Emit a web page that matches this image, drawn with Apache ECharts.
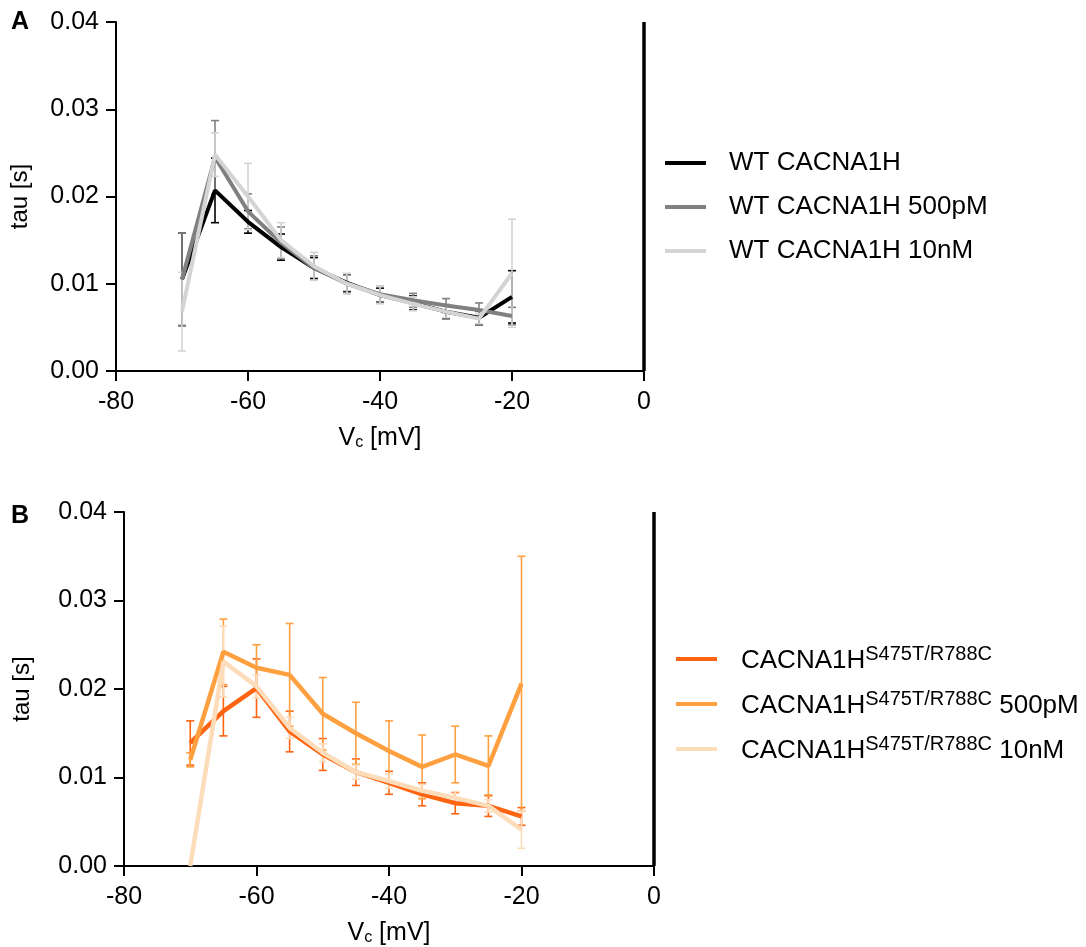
<!DOCTYPE html>
<html><head><meta charset="utf-8">
<script src="https://cdn.jsdelivr.net/npm/echarts@6/dist/echarts.min.js"></script>
<style>html,body{margin:0;padding:0;background:#fff}#c{width:1086px;height:947px}</style>
</head><body><div id="c"></div>
<script>
const voltages = [-70,-65,-60,-55,-50,-45,-40,-35,-30,-25,-20];
const xTicks = [-80,-60,-40,-20,0];
const yTicks = [0,0.01,0.02,0.03,0.04];

const wtNames = ['WT CACNA1H','WT CACNA1H 500pM','WT CACNA1H 10nM'];
const wtMean = [0.0105,0.0207,0.0171,0.0142,0.0118,0.0101,0.0087,0.0078,0.0068,0.0061,0.0085];
const wtErr  = [0.0053,0.0037,0.0013,0.0015,0.0012,0.0010,0.0008,0.0008,0.0008,0.0008,0.0030];
const wt500Mean = [0.0105,0.0245,0.0183,0.0147,0.0118,0.0100,0.0088,0.0081,0.0075,0.0070,0.0063];
const wt500Err  = [0.0053,0.0042,0.0020,0.0018,0.0014,0.0010,0.0009,0.0008,0.0008,0.0008,0.0010];
const wt10Mean = [0.0068,0.0248,0.0200,0.0150,0.0120,0.0100,0.0087,0.0077,0.0068,0.0060,0.0112];
const wt10Err  = [0.0045,0.0025,0.0038,0.0020,0.0016,0.0012,0.0010,0.0008,0.0007,0.0006,0.0062];

const mutNames = ['CACNA1H','CACNA1H 500pM','CACNA1H 10nM'];
const mutSup = 'S475T/R788C';
const mutMean = [0.0139,0.0175,0.0201,0.0152,0.0126,0.0106,0.0094,0.0081,0.0071,0.0068,0.0056];
const mutErr  = [0.0025,0.0028,0.0033,0.0023,0.0018,0.0015,0.0013,0.0013,0.0012,0.0012,0.0010];
const mut500Mean = [0.0120,0.0242,0.0224,0.0216,0.0172,0.0150,0.0130,0.0112,0.0126,0.0113,0.0206];
const mut500Err  = [0.0008,0.0037,0.0026,0.0058,0.0041,0.0035,0.0034,0.0036,0.0032,0.0034,0.0144];
const mut10Mean = [0.0000,0.0231,0.0203,0.0156,0.0128,0.0106,0.0096,0.0085,0.0077,0.0068,0.0041];
const mut10Err  = [0,0.0040,0.0013,0.0012,0.0010,0.0008,0.0008,0.0007,0.0007,0.0007,0.0021];

const wtColors = ['#000000','#808080','#d4d4d4'];
const mutColors = ['#ff6412','#ffa040','#fddcb9'];

const FONT = 'Liberation Sans, Arial, sans-serif';
const chart = echarts.init(document.getElementById('c'));

function errRender(params, api){
  const x = api.value(0), m = api.value(1), e = api.value(2);
  if (!e) return null;
  const hi = api.coord([x, m+e]), lo = api.coord([x, m-e]);
  const w = 4;
  const style = {stroke: api.visual('color'), lineWidth: 1.6};
  return {type:'group', children:[
    {type:'line', shape:{x1:hi[0],y1:hi[1],x2:lo[0],y2:lo[1]}, style},
    {type:'line', shape:{x1:hi[0]-w,y1:hi[1],x2:hi[0]+w,y2:hi[1]}, style},
    {type:'line', shape:{x1:lo[0]-w,y1:lo[1],x2:lo[0]+w,y2:lo[1]}, style}
  ]};
}

function xAxis(gi){
  return {type:'value', gridIndex:gi, min:-80, max:0, interval:20,
    axisLine:{show:true, onZero:false, lineStyle:{color:'#000', width:2}},
    axisTick:{show:true, length:10, lineStyle:{color:'#000', width:2}},
    axisLabel:{color:'#000', fontSize:25, fontFamily:FONT, margin:19},
    splitLine:{show:false},
    name:'V{s|c} [mV]', nameLocation:'middle', nameGap:54,
    nameTextStyle:{color:'#000', fontSize:25, fontFamily:FONT, rich:{s:{fontSize:16, fontFamily:FONT, color:'#000', verticalAlign:'bottom', padding:[10,0,0,0]}}}
  };
}
function yAxis(gi, gap){
  return {type:'value', gridIndex:gi, min:0, max:0.04, interval:0.01,
    axisLine:{show:true, onZero:false, lineStyle:{color:'#000', width:2}},
    axisTick:{show:true, length:10, lineStyle:{color:'#000', width:2}},
    axisLabel:{color:'#000', fontSize:25, fontFamily:FONT, margin:17, formatter:v=>v.toFixed(2)},
    splitLine:{show:false},
    name:'tau [s]', nameLocation:'middle', nameGap:gap, nameRotate:90,
    nameTextStyle:{color:'#000', fontSize:24, fontFamily:FONT}
  };
}

const groups = [
  {names: wtNames, means:[wtMean,wt500Mean,wt10Mean], errs:[wtErr,wt500Err,wt10Err], colors: wtColors, lw:4},
  {names: mutNames, means:[mutMean,mut500Mean,mut10Mean], errs:[mutErr,mut500Err,mut10Err], colors: mutColors, lw:4.5}
];
const series = [];
groups.forEach((g, gi) => {
  g.names.forEach((nm, k) => {
    series.push({type:'custom', name: nm+'_err', xAxisIndex:gi, yAxisIndex:gi,
      renderItem: errRender, itemStyle:{color:g.colors[k]}, z:2,
      data: voltages.map((v,i)=>[v, g.means[k][i], g.errs[k][i]])});
  });
  g.names.forEach((nm, k) => {
    const s = {type:'line', name: nm, xAxisIndex:gi, yAxisIndex:gi,
      showSymbol:false, symbol:'none', z:3,
      lineStyle:{color:g.colors[k], width:g.lw}, itemStyle:{color:g.colors[k]},
      data: voltages.map((v,i)=>[v, g.means[k][i]])};
    if (k === 0) {
      s.markLine = {silent:true, symbol:'none', label:{show:false}, animation:false,
        lineStyle:{color:'#000', width:3.5, type:'solid'}, data:[{xAxis:0}]};
    }
    series.push(s);
  });
});

chart.setOption({
  animation:false,
  backgroundColor:'#fff',
  title:[
    {text:'A', left:6, top:5, textStyle:{fontSize:25, fontWeight:'bold', fontFamily:FONT, color:'#000'}},
    {text:'B', left:6, top:499, textStyle:{fontSize:25, fontWeight:'bold', fontFamily:FONT, color:'#000'}}
  ],
  grid:[
    {left:116, top:22, width:528, height:349},
    {left:124, top:512, width:530, height:355}
  ],
  xAxis:[xAxis(0), xAxis(1)],
  yAxis:[yAxis(0, 84), yAxis(1, 90)],
  legend:[
    {data: wtNames, orient:'vertical', left:660, top:144, icon:'rect', itemWidth:41, itemHeight:4, itemGap:16,
      textStyle:{fontSize:26, fontFamily:FONT, color:'#000', lineHeight:28, padding:[0,0,0,18]}},
    {data: mutNames, orient:'vertical', left:671, top:639, icon:'rect', itemWidth:41, itemHeight:4, itemGap:13,
      formatter: nm => '{m|CACNA1H}{s|' + mutSup + '}' + (nm.length > 7 ? '{m| ' + nm.slice(8) + '}' : ''),
      textStyle:{fontSize:26, fontFamily:FONT, color:'#000', padding:[0,0,0,19],
        rich:{m:{fontSize:26, fontFamily:FONT, color:'#000', lineHeight:30, verticalAlign:'bottom'},
              s:{fontSize:20, fontFamily:FONT, color:'#000', verticalAlign:'top', lineHeight:30, padding:[0,0,12,0]}}}}
  ],
  series: series
});
</script></body></html>
